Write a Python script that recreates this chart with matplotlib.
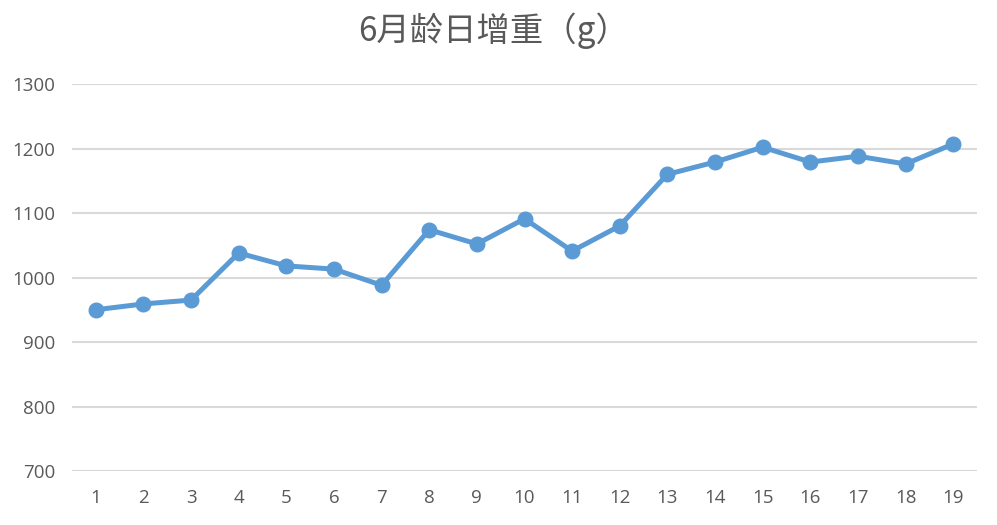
import matplotlib
matplotlib.use("Agg")
import matplotlib.pyplot as plt

plt.rcParams['font.family'] = ['Noto Sans CJK SC', 'DejaVu Sans']

categories = [str(i) for i in range(1, 20)]
values = [950, 959, 965, 1038, 1018, 1013, 988, 1074, 1052, 1091,
          1041, 1080, 1160, 1179, 1202, 1179, 1188, 1176, 1207]
yticks = [700, 800, 900, 1000, 1100, 1200, 1300]
title = "6月龄日增重（g）"

W, H = 997, 525
fig = plt.figure(figsize=(W / 100, H / 100), dpi=100)
ax = fig.add_axes([72 / W, 1 - 471 / H, (977 - 72) / W, (471 - 84) / H])

x = list(range(1, len(values) + 1))
color = "#5B9BD5"
ax.plot(x, values, color=color, linewidth=3.6, marker="o", markersize=10.5,
        markeredgecolor=color, markerfacecolor=color, zorder=3,
        solid_capstyle="round", solid_joinstyle="round")

ax.set_xlim(0.5, len(values) + 0.5)
ax.set_ylim(700, 1300)
ax.set_yticks(yticks)
ax.set_yticklabels([str(v) for v in yticks])
ax.set_xticks(x)
ax.set_xticklabels(categories)
ax.grid(axis="y", color="#D9D9D9", linewidth=1.5)
ax.set_axisbelow(True)
for s in ax.spines.values():
    s.set_visible(False)
ax.tick_params(axis="both", length=0, labelsize=13.5, labelcolor="#595959",
               labelfontfamily="Open Sans")
ax.tick_params(axis="y", pad=12)
ax.tick_params(axis="x", pad=13)

fig.text(494 / W, 1 - 31 / H, title, ha="center", va="center",
         fontsize=24, color="#595959")

fig.savefig("out.png", dpi=100, facecolor="white")
